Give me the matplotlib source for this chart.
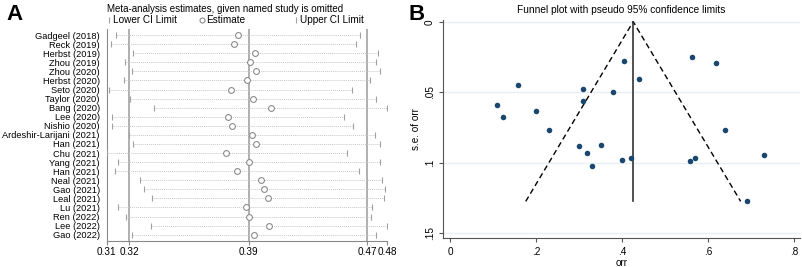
import matplotlib
matplotlib.use("Agg")
import matplotlib.pyplot as plt
from matplotlib.lines import Line2D
import numpy as np

plt.rcParams['font.family'] = ['Liberation Sans', 'DejaVu Sans']

# ---------------- Panel A data ----------------
studies = ["Gadgeel (2018)", "Reck (2019)", "Herbst (2019)", "Zhou (2019)", "Zhou (2020)",
           "Herbst (2020)", "Seto (2020)", "Taylor (2020)", "Bang (2020)", "Lee (2020)",
           "Nishio (2020)", "Ardeshir-Larijani (2021)", "Han (2021)", "Chu (2021)",
           "Yang (2021)", "Han (2021)", "Neal (2021)", "Gao (2021)", "Leal (2021)",
           "Lu (2021)", "Ren (2022)", "Lee (2022)", "Gao (2022)"]
lower = [0.3140, 0.3109, 0.3242, 0.3194, 0.3238, 0.3190, 0.3099, 0.3226, 0.3371, 0.3115,
         0.3115, 0.3220, 0.3242, 0.3083, 0.3149, 0.3134, 0.3281, 0.3305, 0.3357, 0.3153,
         0.3198, 0.3351, 0.3236]
estimate = [0.3873, 0.3851, 0.3978, 0.3950, 0.3984, 0.3928, 0.3831, 0.3966, 0.4075, 0.3813,
            0.3841, 0.3960, 0.3982, 0.3805, 0.3940, 0.3869, 0.4014, 0.4031, 0.4055, 0.3922,
            0.3938, 0.4063, 0.3970]
upper = [0.4612, 0.4587, 0.4719, 0.4704, 0.4731, 0.4668, 0.4563, 0.4704, 0.4773, 0.4515,
         0.4571, 0.4700, 0.4728, 0.4531, 0.4734, 0.4606, 0.4746, 0.4759, 0.4755, 0.4684,
         0.4676, 0.4773, 0.4708]
ref_lower = 0.322
ref_est = 0.394
ref_upper = 0.4654

# ---------------- Panel B data ----------------
orr = [0.159, 0.309, 0.309, 0.379, 0.404, 0.439, 0.563, 0.619, 0.109, 0.200, 0.124, 0.230,
       0.299, 0.319, 0.351, 0.330, 0.400, 0.420, 0.559, 0.570, 0.639, 0.730, 0.691]
se_orr = [0.0448, 0.0479, 0.0561, 0.0497, 0.0281, 0.0408, 0.0248, 0.0292, 0.0594, 0.0634,
          0.0677, 0.0771, 0.0882, 0.0934, 0.0872, 0.1025, 0.0978, 0.0967, 0.0990, 0.0969,
          0.0766, 0.0943, 0.1275]
pooled_orr = 0.426
xticks_b = [0, 0.2, 0.4, 0.6, 0.8]
xtick_labels_b = ["0", ".2", ".4", ".6", ".8"]
yticks_b = [0, 0.05, 0.1, 0.15]
ytick_labels_b = ["0", ".05", ".1", ".15"]

fig = plt.figure(figsize=(8.03, 2.67), dpi=100)

# ================= Panel A =================
axA = fig.add_axes([0.1329, 0.0985, 0.3490, 0.7925])
n = len(studies)
ypos = np.arange(n)
gray = "#8a8a8a"
for xv in (ref_lower, ref_est, ref_upper):
    axA.axvline(xv, color="#9a9a9a", lw=1.1, zorder=1)
for i in range(n):
    axA.plot([lower[i], upper[i]], [i, i], color="#c8c8c8", lw=0.7, ls=(0, (1, 1)), zorder=2)
axA.plot(lower, ypos, ls="none", marker="|", ms=4.5, mew=0.8, color="#a0a0a0", zorder=3)
axA.plot(upper, ypos, ls="none", marker="|", ms=4.5, mew=0.8, color="#a0a0a0", zorder=3)
axA.plot(estimate, ypos, ls="none", marker="o", ms=4.2, mfc="white", mec="#8c8c8c", mew=0.8, zorder=4)

axA.set_xlim(min(lower), max(upper))
axA.set_ylim(n - 1 + 0.66, -0.66)
axA.set_yticks(ypos)
axA.set_yticklabels(studies, fontsize=6.7)
axA.tick_params(axis="y", length=0, pad=5)
xt = [min(lower), ref_lower, ref_est, ref_upper, max(upper)]
axA.set_xticks(xt)
axA.set_xticklabels([f"{v:.2f}" for v in xt], fontsize=7.2)
axA.tick_params(axis="x", length=3, width=0.8, color=gray, pad=1.5)
for s in ("top", "right"):
    axA.spines[s].set_visible(False)
for s in ("left", "bottom"):
    axA.spines[s].set_color(gray)
    axA.spines[s].set_linewidth(0.8)

fig.text(225 / 803, 1 - 9 / 267, "Meta-analysis estimates, given named study is omitted",
         ha="center", va="center", fontsize=7)
# legend row
ly = 1 - 20 / 267
fig.add_artist(Line2D([109 / 803], [ly], transform=fig.transFigure, marker="|", ms=4.5,
                      mew=0.8, color="#a0a0a0", ls="none"))
fig.text(113 / 803, ly, "Lower CI Limit", ha="left", va="center", fontsize=7.2)
fig.add_artist(Line2D([202 / 803], [ly], transform=fig.transFigure, marker="o", ms=3.6,
                      mfc="white", mec="#8c8c8c", mew=0.8, ls="none"))
fig.text(206 / 803, ly, "Estimate", ha="left", va="center", fontsize=7.2)
fig.add_artist(Line2D([296 / 803], [ly], transform=fig.transFigure, marker="|", ms=4.5,
                      mew=0.8, color="#a0a0a0", ls="none"))
fig.text(300 / 803, ly, "Upper CI Limit", ha="left", va="center", fontsize=7.2)

fig.text(15 / 803, 1 - 15 / 267, "A", ha="center", va="center", fontsize=16, fontweight="bold")

# ================= Panel B =================
axB = fig.add_axes([0.5517, 0.1075, 0.4446, 0.8176])
for yv in yticks_b:
    axB.axhline(yv, color="#e6eff1", lw=1.0, zorder=0)
se_max = max(se_orr)
axB.plot([pooled_orr - 1.96 * se_max, pooled_orr, pooled_orr + 1.96 * se_max],
         [se_max, 0, se_max], color="black", lw=1.0, ls=(0, (4, 2.5)), zorder=2)
axB.plot([pooled_orr, pooled_orr], [0, se_max], color="#333333", lw=1.2, zorder=2)
axB.scatter(orr, se_orr, s=16, color="#1a476f", zorder=3, linewidths=0)

axB.set_xlim(-0.0163, 0.814)
axB.set_ylim(0.1537, -0.0012)
axB.set_xticks(xticks_b)
axB.set_xticklabels(xtick_labels_b, fontsize=7.2)
axB.set_yticks(yticks_b)
axB.set_yticklabels(ytick_labels_b, fontsize=7.2, rotation=90, va="center")
axB.tick_params(length=3, width=0.8, color="#555555", pad=3)
axB.set_xlabel("orr", fontsize=7.2, labelpad=1)
axB.set_ylabel("s.e. of orr", fontsize=7.2, labelpad=3)
for s in ("top", "right"):
    axB.spines[s].set_visible(False)
for s in ("left", "bottom"):
    axB.spines[s].set_color("#555555")
    axB.spines[s].set_linewidth(0.8)
axB.set_title("Funnel plot with pseudo 95% confidence limits", fontsize=7.3, pad=5)

fig.text(417 / 803, 1 - 15 / 267, "B", ha="center", va="center", fontsize=16, fontweight="bold")

fig.savefig("out.png", dpi=100)
